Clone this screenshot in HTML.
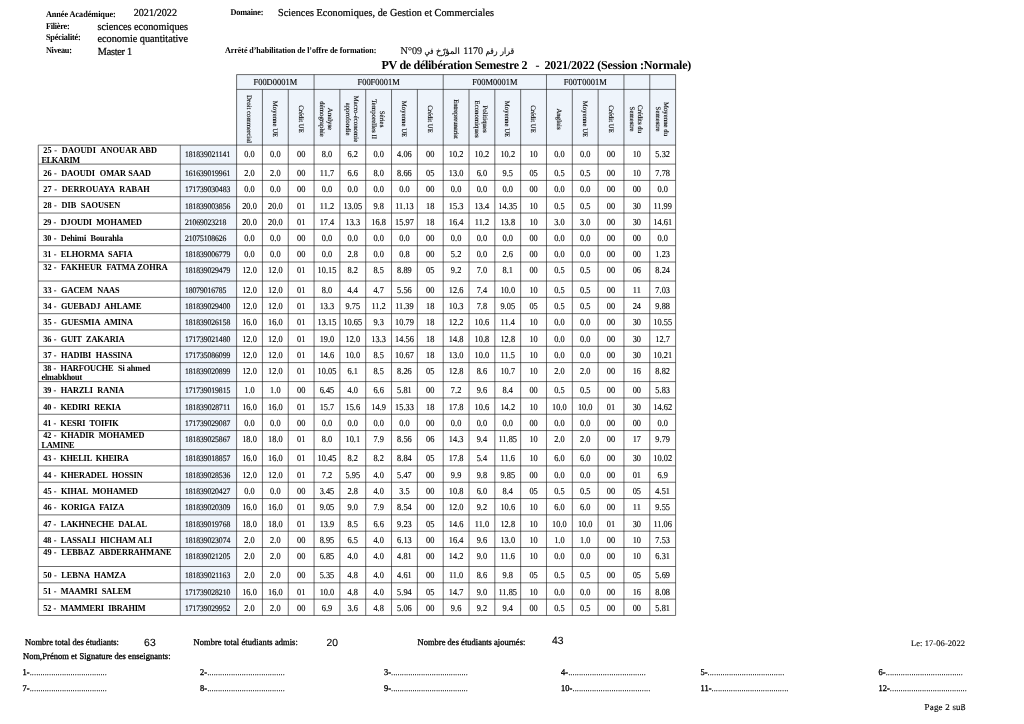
<!DOCTYPE html>
<html lang="fr">
<head>
<meta charset="utf-8">
<title>PV de délibération Semestre 2 - 2021/2022</title>
<style>
html,body{margin:0;padding:0;background:#fff;}
body{width:1024px;height:724px;overflow:hidden;}
svg{display:block;font-family:'Liberation Serif','DejaVu Serif',serif;fill:#000;will-change:transform;}
text{fill:#000;stroke:#000;stroke-width:0.12px;}
text[font-weight=bold]{stroke-width:0;}
</style>
</head>
<body>
<svg width="1024" height="724" viewBox="0 0 1024 724">
<rect x="236.60" y="74.60" width="439.00" height="70.50" fill="#eef4fb"/>
<rect x="180.25" y="145.10" width="56.35" height="470.36" fill="#eef4fb"/>
<path d="M236.60 74.60H675.60M236.60 89.40H675.60M38.25 145.10H675.60M38.25 164.10H675.60M38.25 180.42H675.60M38.25 196.74H675.60M38.25 213.06H675.60M38.25 229.38H675.60M38.25 245.70H675.60M38.25 262.02H675.60M38.25 281.02H675.60M38.25 297.34H675.60M38.25 313.66H675.60M38.25 329.98H675.60M38.25 346.30H675.60M38.25 362.62H675.60M38.25 381.62H675.60M38.25 397.94H675.60M38.25 414.26H675.60M38.25 430.58H675.60M38.25 449.58H675.60M38.25 465.90H675.60M38.25 482.22H675.60M38.25 498.54H675.60M38.25 514.86H675.60M38.25 531.18H675.60M38.25 547.50H675.60M38.25 566.50H675.60M38.25 582.82H675.60M38.25 599.14H675.60M38.25 615.46H675.60M38.25 145.10V615.46M180.25 145.10V615.46M236.60 74.60V615.46M262.42 89.40V615.46M288.25 89.40V615.46M314.07 74.60V615.46M339.89 89.40V615.46M365.72 89.40V615.46M391.54 89.40V615.46M417.36 89.40V615.46M443.19 74.60V615.46M469.01 89.40V615.46M494.84 89.40V615.46M520.66 89.40V615.46M546.48 74.60V615.46M572.31 89.40V615.46M598.13 89.40V615.46M623.95 74.60V615.46M649.78 74.60V615.46M675.60 74.60V615.46" fill="none" stroke="#111" stroke-width="0.62"/>
<text transform="translate(275.34 85.20) scale(1 1.08) skewX(0.5)" font-size="8.5" text-anchor="middle">F00D0001M</text>
<text transform="translate(378.63 85.20) scale(1 1.08) skewX(0.5)" font-size="8.5" text-anchor="middle">F00F0001M</text>
<text transform="translate(494.84 85.20) scale(1 1.08) skewX(0.5)" font-size="8.5" text-anchor="middle">F00M0001M</text>
<text transform="translate(585.22 85.20) scale(1 1.08) skewX(0.5)" font-size="8.5" text-anchor="middle">F00T0001M</text>
<text transform="translate(249.51 119.00) rotate(90) skewX(0.5)" x="0" y="2.50" font-size="6.8" text-anchor="middle">Droit commercial</text>
<text transform="translate(275.34 119.00) rotate(90) skewX(0.5)" x="0" y="2.50" font-size="6.8" text-anchor="middle">Moyenne UE</text>
<text transform="translate(301.16 119.00) rotate(90) skewX(0.5)" x="0" y="2.50" font-size="6.8" text-anchor="middle">Crédit UE</text>
<text transform="translate(326.98 119.00) rotate(90) skewX(0.5)" x="0" y="-1.50" font-size="6.8" text-anchor="middle">Analyse</text>
<text transform="translate(326.98 119.00) rotate(90) skewX(0.5)" x="0" y="6.50" font-size="6.8" text-anchor="middle">démographie</text>
<text transform="translate(352.81 119.00) rotate(90) skewX(0.5)" x="0" y="-1.50" font-size="6.8" text-anchor="middle">Macro-économie</text>
<text transform="translate(352.81 119.00) rotate(90) skewX(0.5)" x="0" y="6.50" font-size="6.8" text-anchor="middle">approfondie</text>
<text transform="translate(378.63 119.00) rotate(90) skewX(0.5)" x="0" y="-1.50" font-size="6.8" text-anchor="middle">Séries</text>
<text transform="translate(378.63 119.00) rotate(90) skewX(0.5)" x="0" y="6.50" font-size="6.8" text-anchor="middle">Temporelles II</text>
<text transform="translate(404.45 119.00) rotate(90) skewX(0.5)" x="0" y="2.50" font-size="6.8" text-anchor="middle">Moyenne UE</text>
<text transform="translate(430.28 119.00) rotate(90) skewX(0.5)" x="0" y="2.50" font-size="6.8" text-anchor="middle">Crédit UE</text>
<text transform="translate(456.10 119.00) rotate(90) skewX(0.5)" x="0" y="2.50" font-size="6.8" text-anchor="middle" letter-spacing="-0.177">Entrepreunariat</text>
<text transform="translate(481.92 119.00) rotate(90) skewX(0.5)" x="0" y="-1.50" font-size="6.8" text-anchor="middle">Politiques</text>
<text transform="translate(481.92 119.00) rotate(90) skewX(0.5)" x="0" y="6.50" font-size="6.8" text-anchor="middle">Economiques</text>
<text transform="translate(507.75 119.00) rotate(90) skewX(0.5)" x="0" y="2.50" font-size="6.8" text-anchor="middle">Moyenne UE</text>
<text transform="translate(533.57 119.00) rotate(90) skewX(0.5)" x="0" y="2.50" font-size="6.8" text-anchor="middle">Crédit UE</text>
<text transform="translate(559.39 119.00) rotate(90) skewX(0.5)" x="0" y="2.50" font-size="6.8" text-anchor="middle">Anglais</text>
<text transform="translate(585.22 119.00) rotate(90) skewX(0.5)" x="0" y="2.50" font-size="6.8" text-anchor="middle">Moyenne UE</text>
<text transform="translate(611.04 119.00) rotate(90) skewX(0.5)" x="0" y="2.50" font-size="6.8" text-anchor="middle">Crédit UE</text>
<text transform="translate(636.86 119.00) rotate(90) skewX(0.5)" x="0" y="-1.50" font-size="6.8" text-anchor="middle">Crédits du</text>
<text transform="translate(636.86 119.00) rotate(90) skewX(0.5)" x="0" y="6.50" font-size="6.8" text-anchor="middle">Semestre</text>
<text transform="translate(662.69 119.00) rotate(90) skewX(0.5)" x="0" y="-1.50" font-size="6.8" text-anchor="middle">Moyenne du</text>
<text transform="translate(662.69 119.00) rotate(90) skewX(0.5)" x="0" y="6.50" font-size="6.8" text-anchor="middle">Semestre</text>
<text transform="translate(43.30 153.00) scale(1 1.08) skewX(0.5)" font-size="8.35" font-weight="bold" xml:space="preserve" word-spacing="0.25" letter-spacing="0.059">25 -  DAOUDI  ANOUAR ABD</text>
<text transform="translate(41.40 162.90) scale(1 1.08) skewX(0.5)" font-size="8.35" font-weight="bold" letter-spacing="-0.333">ELKARIM</text>
<text transform="translate(184.90 156.50) scale(1 1.09) skewX(0.5)" font-size="7.8" letter-spacing="-0.093">181839021141</text>
<text transform="translate(249.51 156.50) scale(1 1.09) skewX(0.5)" font-size="8.4" text-anchor="middle">0.0</text>
<text transform="translate(275.34 156.50) scale(1 1.09) skewX(0.5)" font-size="8.4" text-anchor="middle">0.0</text>
<text transform="translate(301.16 156.50) scale(1 1.09) skewX(0.5)" font-size="8.4" text-anchor="middle">00</text>
<text transform="translate(326.98 156.50) scale(1 1.09) skewX(0.5)" font-size="8.4" text-anchor="middle">8.0</text>
<text transform="translate(352.81 156.50) scale(1 1.09) skewX(0.5)" font-size="8.4" text-anchor="middle">6.2</text>
<text transform="translate(378.63 156.50) scale(1 1.09) skewX(0.5)" font-size="8.4" text-anchor="middle">0.0</text>
<text transform="translate(404.45 156.50) scale(1 1.09) skewX(0.5)" font-size="8.4" text-anchor="middle">4.06</text>
<text transform="translate(430.28 156.50) scale(1 1.09) skewX(0.5)" font-size="8.4" text-anchor="middle">00</text>
<text transform="translate(456.10 156.50) scale(1 1.09) skewX(0.5)" font-size="8.4" text-anchor="middle">10.2</text>
<text transform="translate(481.92 156.50) scale(1 1.09) skewX(0.5)" font-size="8.4" text-anchor="middle">10.2</text>
<text transform="translate(507.75 156.50) scale(1 1.09) skewX(0.5)" font-size="8.4" text-anchor="middle">10.2</text>
<text transform="translate(533.57 156.50) scale(1 1.09) skewX(0.5)" font-size="8.4" text-anchor="middle">10</text>
<text transform="translate(559.39 156.50) scale(1 1.09) skewX(0.5)" font-size="8.4" text-anchor="middle">0.0</text>
<text transform="translate(585.22 156.50) scale(1 1.09) skewX(0.5)" font-size="8.4" text-anchor="middle">0.0</text>
<text transform="translate(611.04 156.50) scale(1 1.09) skewX(0.5)" font-size="8.4" text-anchor="middle">00</text>
<text transform="translate(636.86 156.50) scale(1 1.09) skewX(0.5)" font-size="8.4" text-anchor="middle">10</text>
<text transform="translate(662.69 156.50) scale(1 1.09) skewX(0.5)" font-size="8.4" text-anchor="middle">5.32</text>
<text transform="translate(43.30 175.76) scale(1 1.08) skewX(0.5)" font-size="8.35" font-weight="bold" xml:space="preserve" word-spacing="0.25" letter-spacing="-0.022">26 -  DAOUDI  OMAR SAAD</text>
<text transform="translate(184.90 175.86) scale(1 1.09) skewX(0.5)" font-size="7.8" letter-spacing="-0.118">161639019961</text>
<text transform="translate(249.51 175.86) scale(1 1.09) skewX(0.5)" font-size="8.4" text-anchor="middle">2.0</text>
<text transform="translate(275.34 175.86) scale(1 1.09) skewX(0.5)" font-size="8.4" text-anchor="middle">2.0</text>
<text transform="translate(301.16 175.86) scale(1 1.09) skewX(0.5)" font-size="8.4" text-anchor="middle">00</text>
<text transform="translate(326.98 175.86) scale(1 1.09) skewX(0.5)" font-size="8.4" text-anchor="middle">11.7</text>
<text transform="translate(352.81 175.86) scale(1 1.09) skewX(0.5)" font-size="8.4" text-anchor="middle">6.6</text>
<text transform="translate(378.63 175.86) scale(1 1.09) skewX(0.5)" font-size="8.4" text-anchor="middle">8.0</text>
<text transform="translate(404.45 175.86) scale(1 1.09) skewX(0.5)" font-size="8.4" text-anchor="middle">8.66</text>
<text transform="translate(430.28 175.86) scale(1 1.09) skewX(0.5)" font-size="8.4" text-anchor="middle">05</text>
<text transform="translate(456.10 175.86) scale(1 1.09) skewX(0.5)" font-size="8.4" text-anchor="middle">13.0</text>
<text transform="translate(481.92 175.86) scale(1 1.09) skewX(0.5)" font-size="8.4" text-anchor="middle">6.0</text>
<text transform="translate(507.75 175.86) scale(1 1.09) skewX(0.5)" font-size="8.4" text-anchor="middle">9.5</text>
<text transform="translate(533.57 175.86) scale(1 1.09) skewX(0.5)" font-size="8.4" text-anchor="middle">05</text>
<text transform="translate(559.39 175.86) scale(1 1.09) skewX(0.5)" font-size="8.4" text-anchor="middle">0.5</text>
<text transform="translate(585.22 175.86) scale(1 1.09) skewX(0.5)" font-size="8.4" text-anchor="middle">0.5</text>
<text transform="translate(611.04 175.86) scale(1 1.09) skewX(0.5)" font-size="8.4" text-anchor="middle">00</text>
<text transform="translate(636.86 175.86) scale(1 1.09) skewX(0.5)" font-size="8.4" text-anchor="middle">10</text>
<text transform="translate(662.69 175.86) scale(1 1.09) skewX(0.5)" font-size="8.4" text-anchor="middle">7.78</text>
<text transform="translate(43.30 192.08) scale(1 1.08) skewX(0.5)" font-size="8.35" font-weight="bold" xml:space="preserve" word-spacing="0.25" letter-spacing="0.058">27 -  DERROUAYA  RABAH</text>
<text transform="translate(184.90 192.18) scale(1 1.09) skewX(0.5)" font-size="7.8" letter-spacing="-0.118">171739030483</text>
<text transform="translate(249.51 192.18) scale(1 1.09) skewX(0.5)" font-size="8.4" text-anchor="middle">0.0</text>
<text transform="translate(275.34 192.18) scale(1 1.09) skewX(0.5)" font-size="8.4" text-anchor="middle">0.0</text>
<text transform="translate(301.16 192.18) scale(1 1.09) skewX(0.5)" font-size="8.4" text-anchor="middle">00</text>
<text transform="translate(326.98 192.18) scale(1 1.09) skewX(0.5)" font-size="8.4" text-anchor="middle">0.0</text>
<text transform="translate(352.81 192.18) scale(1 1.09) skewX(0.5)" font-size="8.4" text-anchor="middle">0.0</text>
<text transform="translate(378.63 192.18) scale(1 1.09) skewX(0.5)" font-size="8.4" text-anchor="middle">0.0</text>
<text transform="translate(404.45 192.18) scale(1 1.09) skewX(0.5)" font-size="8.4" text-anchor="middle">0.0</text>
<text transform="translate(430.28 192.18) scale(1 1.09) skewX(0.5)" font-size="8.4" text-anchor="middle">00</text>
<text transform="translate(456.10 192.18) scale(1 1.09) skewX(0.5)" font-size="8.4" text-anchor="middle">0.0</text>
<text transform="translate(481.92 192.18) scale(1 1.09) skewX(0.5)" font-size="8.4" text-anchor="middle">0.0</text>
<text transform="translate(507.75 192.18) scale(1 1.09) skewX(0.5)" font-size="8.4" text-anchor="middle">0.0</text>
<text transform="translate(533.57 192.18) scale(1 1.09) skewX(0.5)" font-size="8.4" text-anchor="middle">00</text>
<text transform="translate(559.39 192.18) scale(1 1.09) skewX(0.5)" font-size="8.4" text-anchor="middle">0.0</text>
<text transform="translate(585.22 192.18) scale(1 1.09) skewX(0.5)" font-size="8.4" text-anchor="middle">0.0</text>
<text transform="translate(611.04 192.18) scale(1 1.09) skewX(0.5)" font-size="8.4" text-anchor="middle">00</text>
<text transform="translate(636.86 192.18) scale(1 1.09) skewX(0.5)" font-size="8.4" text-anchor="middle">00</text>
<text transform="translate(662.69 192.18) scale(1 1.09) skewX(0.5)" font-size="8.4" text-anchor="middle">0.0</text>
<text transform="translate(43.30 208.40) scale(1 1.08) skewX(0.5)" font-size="8.35" font-weight="bold" xml:space="preserve" word-spacing="0.25" letter-spacing="-0.010">28 -  DIB  SAOUSEN</text>
<text transform="translate(184.90 208.50) scale(1 1.09) skewX(0.5)" font-size="7.8" letter-spacing="-0.118">181839003856</text>
<text transform="translate(249.51 208.50) scale(1 1.09) skewX(0.5)" font-size="8.4" text-anchor="middle">20.0</text>
<text transform="translate(275.34 208.50) scale(1 1.09) skewX(0.5)" font-size="8.4" text-anchor="middle">20.0</text>
<text transform="translate(301.16 208.50) scale(1 1.09) skewX(0.5)" font-size="8.4" text-anchor="middle">01</text>
<text transform="translate(326.98 208.50) scale(1 1.09) skewX(0.5)" font-size="8.4" text-anchor="middle">11.2</text>
<text transform="translate(352.81 208.50) scale(1 1.09) skewX(0.5)" font-size="8.4" text-anchor="middle">13.05</text>
<text transform="translate(378.63 208.50) scale(1 1.09) skewX(0.5)" font-size="8.4" text-anchor="middle">9.8</text>
<text transform="translate(404.45 208.50) scale(1 1.09) skewX(0.5)" font-size="8.4" text-anchor="middle">11.13</text>
<text transform="translate(430.28 208.50) scale(1 1.09) skewX(0.5)" font-size="8.4" text-anchor="middle">18</text>
<text transform="translate(456.10 208.50) scale(1 1.09) skewX(0.5)" font-size="8.4" text-anchor="middle">15.3</text>
<text transform="translate(481.92 208.50) scale(1 1.09) skewX(0.5)" font-size="8.4" text-anchor="middle">13.4</text>
<text transform="translate(507.75 208.50) scale(1 1.09) skewX(0.5)" font-size="8.4" text-anchor="middle">14.35</text>
<text transform="translate(533.57 208.50) scale(1 1.09) skewX(0.5)" font-size="8.4" text-anchor="middle">10</text>
<text transform="translate(559.39 208.50) scale(1 1.09) skewX(0.5)" font-size="8.4" text-anchor="middle">0.5</text>
<text transform="translate(585.22 208.50) scale(1 1.09) skewX(0.5)" font-size="8.4" text-anchor="middle">0.5</text>
<text transform="translate(611.04 208.50) scale(1 1.09) skewX(0.5)" font-size="8.4" text-anchor="middle">00</text>
<text transform="translate(636.86 208.50) scale(1 1.09) skewX(0.5)" font-size="8.4" text-anchor="middle">30</text>
<text transform="translate(662.69 208.50) scale(1 1.09) skewX(0.5)" font-size="8.4" text-anchor="middle">11.99</text>
<text transform="translate(43.30 224.72) scale(1 1.08) skewX(0.5)" font-size="8.35" font-weight="bold" xml:space="preserve" word-spacing="0.25" letter-spacing="-0.125">29 -  DJOUDI  MOHAMED</text>
<text transform="translate(184.90 224.82) scale(1 1.09) skewX(0.5)" font-size="7.8" letter-spacing="-0.120">21069023218</text>
<text transform="translate(249.51 224.82) scale(1 1.09) skewX(0.5)" font-size="8.4" text-anchor="middle">20.0</text>
<text transform="translate(275.34 224.82) scale(1 1.09) skewX(0.5)" font-size="8.4" text-anchor="middle">20.0</text>
<text transform="translate(301.16 224.82) scale(1 1.09) skewX(0.5)" font-size="8.4" text-anchor="middle">01</text>
<text transform="translate(326.98 224.82) scale(1 1.09) skewX(0.5)" font-size="8.4" text-anchor="middle">17.4</text>
<text transform="translate(352.81 224.82) scale(1 1.09) skewX(0.5)" font-size="8.4" text-anchor="middle">13.3</text>
<text transform="translate(378.63 224.82) scale(1 1.09) skewX(0.5)" font-size="8.4" text-anchor="middle">16.8</text>
<text transform="translate(404.45 224.82) scale(1 1.09) skewX(0.5)" font-size="8.4" text-anchor="middle">15.97</text>
<text transform="translate(430.28 224.82) scale(1 1.09) skewX(0.5)" font-size="8.4" text-anchor="middle">18</text>
<text transform="translate(456.10 224.82) scale(1 1.09) skewX(0.5)" font-size="8.4" text-anchor="middle">16.4</text>
<text transform="translate(481.92 224.82) scale(1 1.09) skewX(0.5)" font-size="8.4" text-anchor="middle">11.2</text>
<text transform="translate(507.75 224.82) scale(1 1.09) skewX(0.5)" font-size="8.4" text-anchor="middle">13.8</text>
<text transform="translate(533.57 224.82) scale(1 1.09) skewX(0.5)" font-size="8.4" text-anchor="middle">10</text>
<text transform="translate(559.39 224.82) scale(1 1.09) skewX(0.5)" font-size="8.4" text-anchor="middle">3.0</text>
<text transform="translate(585.22 224.82) scale(1 1.09) skewX(0.5)" font-size="8.4" text-anchor="middle">3.0</text>
<text transform="translate(611.04 224.82) scale(1 1.09) skewX(0.5)" font-size="8.4" text-anchor="middle">00</text>
<text transform="translate(636.86 224.82) scale(1 1.09) skewX(0.5)" font-size="8.4" text-anchor="middle">30</text>
<text transform="translate(662.69 224.82) scale(1 1.09) skewX(0.5)" font-size="8.4" text-anchor="middle">14.61</text>
<text transform="translate(43.30 241.04) scale(1 1.08) skewX(0.5)" font-size="8.35" font-weight="bold" xml:space="preserve" word-spacing="0.25" letter-spacing="-0.107">30 -  Dehimi  Bourahla</text>
<text transform="translate(184.90 241.14) scale(1 1.09) skewX(0.5)" font-size="7.8" letter-spacing="-0.120">21075108626</text>
<text transform="translate(249.51 241.14) scale(1 1.09) skewX(0.5)" font-size="8.4" text-anchor="middle">0.0</text>
<text transform="translate(275.34 241.14) scale(1 1.09) skewX(0.5)" font-size="8.4" text-anchor="middle">0.0</text>
<text transform="translate(301.16 241.14) scale(1 1.09) skewX(0.5)" font-size="8.4" text-anchor="middle">00</text>
<text transform="translate(326.98 241.14) scale(1 1.09) skewX(0.5)" font-size="8.4" text-anchor="middle">0.0</text>
<text transform="translate(352.81 241.14) scale(1 1.09) skewX(0.5)" font-size="8.4" text-anchor="middle">0.0</text>
<text transform="translate(378.63 241.14) scale(1 1.09) skewX(0.5)" font-size="8.4" text-anchor="middle">0.0</text>
<text transform="translate(404.45 241.14) scale(1 1.09) skewX(0.5)" font-size="8.4" text-anchor="middle">0.0</text>
<text transform="translate(430.28 241.14) scale(1 1.09) skewX(0.5)" font-size="8.4" text-anchor="middle">00</text>
<text transform="translate(456.10 241.14) scale(1 1.09) skewX(0.5)" font-size="8.4" text-anchor="middle">0.0</text>
<text transform="translate(481.92 241.14) scale(1 1.09) skewX(0.5)" font-size="8.4" text-anchor="middle">0.0</text>
<text transform="translate(507.75 241.14) scale(1 1.09) skewX(0.5)" font-size="8.4" text-anchor="middle">0.0</text>
<text transform="translate(533.57 241.14) scale(1 1.09) skewX(0.5)" font-size="8.4" text-anchor="middle">00</text>
<text transform="translate(559.39 241.14) scale(1 1.09) skewX(0.5)" font-size="8.4" text-anchor="middle">0.0</text>
<text transform="translate(585.22 241.14) scale(1 1.09) skewX(0.5)" font-size="8.4" text-anchor="middle">0.0</text>
<text transform="translate(611.04 241.14) scale(1 1.09) skewX(0.5)" font-size="8.4" text-anchor="middle">00</text>
<text transform="translate(636.86 241.14) scale(1 1.09) skewX(0.5)" font-size="8.4" text-anchor="middle">00</text>
<text transform="translate(662.69 241.14) scale(1 1.09) skewX(0.5)" font-size="8.4" text-anchor="middle">0.0</text>
<text transform="translate(43.30 257.36) scale(1 1.08) skewX(0.5)" font-size="8.35" font-weight="bold" xml:space="preserve" word-spacing="0.25" letter-spacing="-0.106">31 -  ELHORMA  SAFIA</text>
<text transform="translate(184.90 257.46) scale(1 1.09) skewX(0.5)" font-size="7.8" letter-spacing="-0.118">181839006779</text>
<text transform="translate(249.51 257.46) scale(1 1.09) skewX(0.5)" font-size="8.4" text-anchor="middle">0.0</text>
<text transform="translate(275.34 257.46) scale(1 1.09) skewX(0.5)" font-size="8.4" text-anchor="middle">0.0</text>
<text transform="translate(301.16 257.46) scale(1 1.09) skewX(0.5)" font-size="8.4" text-anchor="middle">00</text>
<text transform="translate(326.98 257.46) scale(1 1.09) skewX(0.5)" font-size="8.4" text-anchor="middle">0.0</text>
<text transform="translate(352.81 257.46) scale(1 1.09) skewX(0.5)" font-size="8.4" text-anchor="middle">2.8</text>
<text transform="translate(378.63 257.46) scale(1 1.09) skewX(0.5)" font-size="8.4" text-anchor="middle">0.0</text>
<text transform="translate(404.45 257.46) scale(1 1.09) skewX(0.5)" font-size="8.4" text-anchor="middle">0.8</text>
<text transform="translate(430.28 257.46) scale(1 1.09) skewX(0.5)" font-size="8.4" text-anchor="middle">00</text>
<text transform="translate(456.10 257.46) scale(1 1.09) skewX(0.5)" font-size="8.4" text-anchor="middle">5.2</text>
<text transform="translate(481.92 257.46) scale(1 1.09) skewX(0.5)" font-size="8.4" text-anchor="middle">0.0</text>
<text transform="translate(507.75 257.46) scale(1 1.09) skewX(0.5)" font-size="8.4" text-anchor="middle">2.6</text>
<text transform="translate(533.57 257.46) scale(1 1.09) skewX(0.5)" font-size="8.4" text-anchor="middle">00</text>
<text transform="translate(559.39 257.46) scale(1 1.09) skewX(0.5)" font-size="8.4" text-anchor="middle">0.0</text>
<text transform="translate(585.22 257.46) scale(1 1.09) skewX(0.5)" font-size="8.4" text-anchor="middle">0.0</text>
<text transform="translate(611.04 257.46) scale(1 1.09) skewX(0.5)" font-size="8.4" text-anchor="middle">00</text>
<text transform="translate(636.86 257.46) scale(1 1.09) skewX(0.5)" font-size="8.4" text-anchor="middle">00</text>
<text transform="translate(662.69 257.46) scale(1 1.09) skewX(0.5)" font-size="8.4" text-anchor="middle">1.23</text>
<text transform="translate(43.30 269.92) scale(1 1.08) skewX(0.5)" font-size="8.35" font-weight="bold" xml:space="preserve" word-spacing="0.25" letter-spacing="-0.053">32 -  FAKHEUR  FATMA ZOHRA</text>
<text transform="translate(184.90 273.42) scale(1 1.09) skewX(0.5)" font-size="7.8" letter-spacing="-0.118">181839029479</text>
<text transform="translate(249.51 273.42) scale(1 1.09) skewX(0.5)" font-size="8.4" text-anchor="middle">12.0</text>
<text transform="translate(275.34 273.42) scale(1 1.09) skewX(0.5)" font-size="8.4" text-anchor="middle">12.0</text>
<text transform="translate(301.16 273.42) scale(1 1.09) skewX(0.5)" font-size="8.4" text-anchor="middle">01</text>
<text transform="translate(326.98 273.42) scale(1 1.09) skewX(0.5)" font-size="8.4" text-anchor="middle">10.15</text>
<text transform="translate(352.81 273.42) scale(1 1.09) skewX(0.5)" font-size="8.4" text-anchor="middle">8.2</text>
<text transform="translate(378.63 273.42) scale(1 1.09) skewX(0.5)" font-size="8.4" text-anchor="middle">8.5</text>
<text transform="translate(404.45 273.42) scale(1 1.09) skewX(0.5)" font-size="8.4" text-anchor="middle">8.89</text>
<text transform="translate(430.28 273.42) scale(1 1.09) skewX(0.5)" font-size="8.4" text-anchor="middle">05</text>
<text transform="translate(456.10 273.42) scale(1 1.09) skewX(0.5)" font-size="8.4" text-anchor="middle">9.2</text>
<text transform="translate(481.92 273.42) scale(1 1.09) skewX(0.5)" font-size="8.4" text-anchor="middle">7.0</text>
<text transform="translate(507.75 273.42) scale(1 1.09) skewX(0.5)" font-size="8.4" text-anchor="middle">8.1</text>
<text transform="translate(533.57 273.42) scale(1 1.09) skewX(0.5)" font-size="8.4" text-anchor="middle">00</text>
<text transform="translate(559.39 273.42) scale(1 1.09) skewX(0.5)" font-size="8.4" text-anchor="middle">0.5</text>
<text transform="translate(585.22 273.42) scale(1 1.09) skewX(0.5)" font-size="8.4" text-anchor="middle">0.5</text>
<text transform="translate(611.04 273.42) scale(1 1.09) skewX(0.5)" font-size="8.4" text-anchor="middle">00</text>
<text transform="translate(636.86 273.42) scale(1 1.09) skewX(0.5)" font-size="8.4" text-anchor="middle">06</text>
<text transform="translate(662.69 273.42) scale(1 1.09) skewX(0.5)" font-size="8.4" text-anchor="middle">8.24</text>
<text transform="translate(43.30 292.68) scale(1 1.08) skewX(0.5)" font-size="8.35" font-weight="bold" xml:space="preserve" word-spacing="0.25" letter-spacing="-0.070">33 -  GACEM  NAAS</text>
<text transform="translate(184.90 292.78) scale(1 1.09) skewX(0.5)" font-size="7.8" letter-spacing="-0.120">18079016785</text>
<text transform="translate(249.51 292.78) scale(1 1.09) skewX(0.5)" font-size="8.4" text-anchor="middle">12.0</text>
<text transform="translate(275.34 292.78) scale(1 1.09) skewX(0.5)" font-size="8.4" text-anchor="middle">12.0</text>
<text transform="translate(301.16 292.78) scale(1 1.09) skewX(0.5)" font-size="8.4" text-anchor="middle">01</text>
<text transform="translate(326.98 292.78) scale(1 1.09) skewX(0.5)" font-size="8.4" text-anchor="middle">8.0</text>
<text transform="translate(352.81 292.78) scale(1 1.09) skewX(0.5)" font-size="8.4" text-anchor="middle">4.4</text>
<text transform="translate(378.63 292.78) scale(1 1.09) skewX(0.5)" font-size="8.4" text-anchor="middle">4.7</text>
<text transform="translate(404.45 292.78) scale(1 1.09) skewX(0.5)" font-size="8.4" text-anchor="middle">5.56</text>
<text transform="translate(430.28 292.78) scale(1 1.09) skewX(0.5)" font-size="8.4" text-anchor="middle">00</text>
<text transform="translate(456.10 292.78) scale(1 1.09) skewX(0.5)" font-size="8.4" text-anchor="middle">12.6</text>
<text transform="translate(481.92 292.78) scale(1 1.09) skewX(0.5)" font-size="8.4" text-anchor="middle">7.4</text>
<text transform="translate(507.75 292.78) scale(1 1.09) skewX(0.5)" font-size="8.4" text-anchor="middle">10.0</text>
<text transform="translate(533.57 292.78) scale(1 1.09) skewX(0.5)" font-size="8.4" text-anchor="middle">10</text>
<text transform="translate(559.39 292.78) scale(1 1.09) skewX(0.5)" font-size="8.4" text-anchor="middle">0.5</text>
<text transform="translate(585.22 292.78) scale(1 1.09) skewX(0.5)" font-size="8.4" text-anchor="middle">0.5</text>
<text transform="translate(611.04 292.78) scale(1 1.09) skewX(0.5)" font-size="8.4" text-anchor="middle">00</text>
<text transform="translate(636.86 292.78) scale(1 1.09) skewX(0.5)" font-size="8.4" text-anchor="middle">11</text>
<text transform="translate(662.69 292.78) scale(1 1.09) skewX(0.5)" font-size="8.4" text-anchor="middle">7.03</text>
<text transform="translate(43.30 309.00) scale(1 1.08) skewX(0.5)" font-size="8.35" font-weight="bold" xml:space="preserve" word-spacing="0.25" letter-spacing="-0.081">34 -  GUEBADJ  AHLAME</text>
<text transform="translate(184.90 309.10) scale(1 1.09) skewX(0.5)" font-size="7.8" letter-spacing="-0.118">181839029400</text>
<text transform="translate(249.51 309.10) scale(1 1.09) skewX(0.5)" font-size="8.4" text-anchor="middle">12.0</text>
<text transform="translate(275.34 309.10) scale(1 1.09) skewX(0.5)" font-size="8.4" text-anchor="middle">12.0</text>
<text transform="translate(301.16 309.10) scale(1 1.09) skewX(0.5)" font-size="8.4" text-anchor="middle">01</text>
<text transform="translate(326.98 309.10) scale(1 1.09) skewX(0.5)" font-size="8.4" text-anchor="middle">13.3</text>
<text transform="translate(352.81 309.10) scale(1 1.09) skewX(0.5)" font-size="8.4" text-anchor="middle">9.75</text>
<text transform="translate(378.63 309.10) scale(1 1.09) skewX(0.5)" font-size="8.4" text-anchor="middle">11.2</text>
<text transform="translate(404.45 309.10) scale(1 1.09) skewX(0.5)" font-size="8.4" text-anchor="middle">11.39</text>
<text transform="translate(430.28 309.10) scale(1 1.09) skewX(0.5)" font-size="8.4" text-anchor="middle">18</text>
<text transform="translate(456.10 309.10) scale(1 1.09) skewX(0.5)" font-size="8.4" text-anchor="middle">10.3</text>
<text transform="translate(481.92 309.10) scale(1 1.09) skewX(0.5)" font-size="8.4" text-anchor="middle">7.8</text>
<text transform="translate(507.75 309.10) scale(1 1.09) skewX(0.5)" font-size="8.4" text-anchor="middle">9.05</text>
<text transform="translate(533.57 309.10) scale(1 1.09) skewX(0.5)" font-size="8.4" text-anchor="middle">05</text>
<text transform="translate(559.39 309.10) scale(1 1.09) skewX(0.5)" font-size="8.4" text-anchor="middle">0.5</text>
<text transform="translate(585.22 309.10) scale(1 1.09) skewX(0.5)" font-size="8.4" text-anchor="middle">0.5</text>
<text transform="translate(611.04 309.10) scale(1 1.09) skewX(0.5)" font-size="8.4" text-anchor="middle">00</text>
<text transform="translate(636.86 309.10) scale(1 1.09) skewX(0.5)" font-size="8.4" text-anchor="middle">24</text>
<text transform="translate(662.69 309.10) scale(1 1.09) skewX(0.5)" font-size="8.4" text-anchor="middle">9.88</text>
<text transform="translate(43.30 325.32) scale(1 1.08) skewX(0.5)" font-size="8.35" font-weight="bold" xml:space="preserve" word-spacing="0.25" letter-spacing="-0.066">35 -  GUESMIA  AMINA</text>
<text transform="translate(184.90 325.42) scale(1 1.09) skewX(0.5)" font-size="7.8" letter-spacing="-0.118">181839026158</text>
<text transform="translate(249.51 325.42) scale(1 1.09) skewX(0.5)" font-size="8.4" text-anchor="middle">16.0</text>
<text transform="translate(275.34 325.42) scale(1 1.09) skewX(0.5)" font-size="8.4" text-anchor="middle">16.0</text>
<text transform="translate(301.16 325.42) scale(1 1.09) skewX(0.5)" font-size="8.4" text-anchor="middle">01</text>
<text transform="translate(326.98 325.42) scale(1 1.09) skewX(0.5)" font-size="8.4" text-anchor="middle">13.15</text>
<text transform="translate(352.81 325.42) scale(1 1.09) skewX(0.5)" font-size="8.4" text-anchor="middle">10.65</text>
<text transform="translate(378.63 325.42) scale(1 1.09) skewX(0.5)" font-size="8.4" text-anchor="middle">9.3</text>
<text transform="translate(404.45 325.42) scale(1 1.09) skewX(0.5)" font-size="8.4" text-anchor="middle">10.79</text>
<text transform="translate(430.28 325.42) scale(1 1.09) skewX(0.5)" font-size="8.4" text-anchor="middle">18</text>
<text transform="translate(456.10 325.42) scale(1 1.09) skewX(0.5)" font-size="8.4" text-anchor="middle">12.2</text>
<text transform="translate(481.92 325.42) scale(1 1.09) skewX(0.5)" font-size="8.4" text-anchor="middle">10.6</text>
<text transform="translate(507.75 325.42) scale(1 1.09) skewX(0.5)" font-size="8.4" text-anchor="middle">11.4</text>
<text transform="translate(533.57 325.42) scale(1 1.09) skewX(0.5)" font-size="8.4" text-anchor="middle">10</text>
<text transform="translate(559.39 325.42) scale(1 1.09) skewX(0.5)" font-size="8.4" text-anchor="middle">0.0</text>
<text transform="translate(585.22 325.42) scale(1 1.09) skewX(0.5)" font-size="8.4" text-anchor="middle">0.0</text>
<text transform="translate(611.04 325.42) scale(1 1.09) skewX(0.5)" font-size="8.4" text-anchor="middle">00</text>
<text transform="translate(636.86 325.42) scale(1 1.09) skewX(0.5)" font-size="8.4" text-anchor="middle">30</text>
<text transform="translate(662.69 325.42) scale(1 1.09) skewX(0.5)" font-size="8.4" text-anchor="middle">10.55</text>
<text transform="translate(43.30 341.64) scale(1 1.08) skewX(0.5)" font-size="8.35" font-weight="bold" xml:space="preserve" word-spacing="0.25" letter-spacing="-0.111">36 -  GUIT  ZAKARIA</text>
<text transform="translate(184.90 341.74) scale(1 1.09) skewX(0.5)" font-size="7.8" letter-spacing="-0.118">171739021480</text>
<text transform="translate(249.51 341.74) scale(1 1.09) skewX(0.5)" font-size="8.4" text-anchor="middle">12.0</text>
<text transform="translate(275.34 341.74) scale(1 1.09) skewX(0.5)" font-size="8.4" text-anchor="middle">12.0</text>
<text transform="translate(301.16 341.74) scale(1 1.09) skewX(0.5)" font-size="8.4" text-anchor="middle">01</text>
<text transform="translate(326.98 341.74) scale(1 1.09) skewX(0.5)" font-size="8.4" text-anchor="middle">19.0</text>
<text transform="translate(352.81 341.74) scale(1 1.09) skewX(0.5)" font-size="8.4" text-anchor="middle">12.0</text>
<text transform="translate(378.63 341.74) scale(1 1.09) skewX(0.5)" font-size="8.4" text-anchor="middle">13.3</text>
<text transform="translate(404.45 341.74) scale(1 1.09) skewX(0.5)" font-size="8.4" text-anchor="middle">14.56</text>
<text transform="translate(430.28 341.74) scale(1 1.09) skewX(0.5)" font-size="8.4" text-anchor="middle">18</text>
<text transform="translate(456.10 341.74) scale(1 1.09) skewX(0.5)" font-size="8.4" text-anchor="middle">14.8</text>
<text transform="translate(481.92 341.74) scale(1 1.09) skewX(0.5)" font-size="8.4" text-anchor="middle">10.8</text>
<text transform="translate(507.75 341.74) scale(1 1.09) skewX(0.5)" font-size="8.4" text-anchor="middle">12.8</text>
<text transform="translate(533.57 341.74) scale(1 1.09) skewX(0.5)" font-size="8.4" text-anchor="middle">10</text>
<text transform="translate(559.39 341.74) scale(1 1.09) skewX(0.5)" font-size="8.4" text-anchor="middle">0.0</text>
<text transform="translate(585.22 341.74) scale(1 1.09) skewX(0.5)" font-size="8.4" text-anchor="middle">0.0</text>
<text transform="translate(611.04 341.74) scale(1 1.09) skewX(0.5)" font-size="8.4" text-anchor="middle">00</text>
<text transform="translate(636.86 341.74) scale(1 1.09) skewX(0.5)" font-size="8.4" text-anchor="middle">30</text>
<text transform="translate(662.69 341.74) scale(1 1.09) skewX(0.5)" font-size="8.4" text-anchor="middle">12.7</text>
<text transform="translate(43.30 357.96) scale(1 1.08) skewX(0.5)" font-size="8.35" font-weight="bold" xml:space="preserve" word-spacing="0.25" letter-spacing="-0.065">37 -  HADIBI  HASSINA</text>
<text transform="translate(184.90 358.06) scale(1 1.09) skewX(0.5)" font-size="7.8" letter-spacing="-0.118">171735086099</text>
<text transform="translate(249.51 358.06) scale(1 1.09) skewX(0.5)" font-size="8.4" text-anchor="middle">12.0</text>
<text transform="translate(275.34 358.06) scale(1 1.09) skewX(0.5)" font-size="8.4" text-anchor="middle">12.0</text>
<text transform="translate(301.16 358.06) scale(1 1.09) skewX(0.5)" font-size="8.4" text-anchor="middle">01</text>
<text transform="translate(326.98 358.06) scale(1 1.09) skewX(0.5)" font-size="8.4" text-anchor="middle">14.6</text>
<text transform="translate(352.81 358.06) scale(1 1.09) skewX(0.5)" font-size="8.4" text-anchor="middle">10.0</text>
<text transform="translate(378.63 358.06) scale(1 1.09) skewX(0.5)" font-size="8.4" text-anchor="middle">8.5</text>
<text transform="translate(404.45 358.06) scale(1 1.09) skewX(0.5)" font-size="8.4" text-anchor="middle">10.67</text>
<text transform="translate(430.28 358.06) scale(1 1.09) skewX(0.5)" font-size="8.4" text-anchor="middle">18</text>
<text transform="translate(456.10 358.06) scale(1 1.09) skewX(0.5)" font-size="8.4" text-anchor="middle">13.0</text>
<text transform="translate(481.92 358.06) scale(1 1.09) skewX(0.5)" font-size="8.4" text-anchor="middle">10.0</text>
<text transform="translate(507.75 358.06) scale(1 1.09) skewX(0.5)" font-size="8.4" text-anchor="middle">11.5</text>
<text transform="translate(533.57 358.06) scale(1 1.09) skewX(0.5)" font-size="8.4" text-anchor="middle">10</text>
<text transform="translate(559.39 358.06) scale(1 1.09) skewX(0.5)" font-size="8.4" text-anchor="middle">0.0</text>
<text transform="translate(585.22 358.06) scale(1 1.09) skewX(0.5)" font-size="8.4" text-anchor="middle">0.0</text>
<text transform="translate(611.04 358.06) scale(1 1.09) skewX(0.5)" font-size="8.4" text-anchor="middle">00</text>
<text transform="translate(636.86 358.06) scale(1 1.09) skewX(0.5)" font-size="8.4" text-anchor="middle">30</text>
<text transform="translate(662.69 358.06) scale(1 1.09) skewX(0.5)" font-size="8.4" text-anchor="middle">10.21</text>
<text transform="translate(43.30 370.52) scale(1 1.08) skewX(0.5)" font-size="8.35" font-weight="bold" xml:space="preserve" word-spacing="0.25" letter-spacing="-0.143">38 -  HARFOUCHE  Si ahmed</text>
<text transform="translate(41.40 380.42) scale(1 1.08) skewX(0.5)" font-size="8.35" font-weight="bold" letter-spacing="-0.195">elmabkhout</text>
<text transform="translate(184.90 374.02) scale(1 1.09) skewX(0.5)" font-size="7.8" letter-spacing="-0.118">181839020899</text>
<text transform="translate(249.51 374.02) scale(1 1.09) skewX(0.5)" font-size="8.4" text-anchor="middle">12.0</text>
<text transform="translate(275.34 374.02) scale(1 1.09) skewX(0.5)" font-size="8.4" text-anchor="middle">12.0</text>
<text transform="translate(301.16 374.02) scale(1 1.09) skewX(0.5)" font-size="8.4" text-anchor="middle">01</text>
<text transform="translate(326.98 374.02) scale(1 1.09) skewX(0.5)" font-size="8.4" text-anchor="middle">10.05</text>
<text transform="translate(352.81 374.02) scale(1 1.09) skewX(0.5)" font-size="8.4" text-anchor="middle">6.1</text>
<text transform="translate(378.63 374.02) scale(1 1.09) skewX(0.5)" font-size="8.4" text-anchor="middle">8.5</text>
<text transform="translate(404.45 374.02) scale(1 1.09) skewX(0.5)" font-size="8.4" text-anchor="middle">8.26</text>
<text transform="translate(430.28 374.02) scale(1 1.09) skewX(0.5)" font-size="8.4" text-anchor="middle">05</text>
<text transform="translate(456.10 374.02) scale(1 1.09) skewX(0.5)" font-size="8.4" text-anchor="middle">12.8</text>
<text transform="translate(481.92 374.02) scale(1 1.09) skewX(0.5)" font-size="8.4" text-anchor="middle">8.6</text>
<text transform="translate(507.75 374.02) scale(1 1.09) skewX(0.5)" font-size="8.4" text-anchor="middle">10.7</text>
<text transform="translate(533.57 374.02) scale(1 1.09) skewX(0.5)" font-size="8.4" text-anchor="middle">10</text>
<text transform="translate(559.39 374.02) scale(1 1.09) skewX(0.5)" font-size="8.4" text-anchor="middle">2.0</text>
<text transform="translate(585.22 374.02) scale(1 1.09) skewX(0.5)" font-size="8.4" text-anchor="middle">2.0</text>
<text transform="translate(611.04 374.02) scale(1 1.09) skewX(0.5)" font-size="8.4" text-anchor="middle">00</text>
<text transform="translate(636.86 374.02) scale(1 1.09) skewX(0.5)" font-size="8.4" text-anchor="middle">16</text>
<text transform="translate(662.69 374.02) scale(1 1.09) skewX(0.5)" font-size="8.4" text-anchor="middle">8.82</text>
<text transform="translate(43.30 393.28) scale(1 1.08) skewX(0.5)" font-size="8.35" font-weight="bold" xml:space="preserve" word-spacing="0.25" letter-spacing="-0.121">39 -  HARZLI  RANIA</text>
<text transform="translate(184.90 393.38) scale(1 1.09) skewX(0.5)" font-size="7.8" letter-spacing="-0.118">171739019815</text>
<text transform="translate(249.51 393.38) scale(1 1.09) skewX(0.5)" font-size="8.4" text-anchor="middle">1.0</text>
<text transform="translate(275.34 393.38) scale(1 1.09) skewX(0.5)" font-size="8.4" text-anchor="middle">1.0</text>
<text transform="translate(301.16 393.38) scale(1 1.09) skewX(0.5)" font-size="8.4" text-anchor="middle">00</text>
<text transform="translate(326.98 393.38) scale(1 1.09) skewX(0.5)" font-size="8.4" text-anchor="middle">6.45</text>
<text transform="translate(352.81 393.38) scale(1 1.09) skewX(0.5)" font-size="8.4" text-anchor="middle">4.0</text>
<text transform="translate(378.63 393.38) scale(1 1.09) skewX(0.5)" font-size="8.4" text-anchor="middle">6.6</text>
<text transform="translate(404.45 393.38) scale(1 1.09) skewX(0.5)" font-size="8.4" text-anchor="middle">5.81</text>
<text transform="translate(430.28 393.38) scale(1 1.09) skewX(0.5)" font-size="8.4" text-anchor="middle">00</text>
<text transform="translate(456.10 393.38) scale(1 1.09) skewX(0.5)" font-size="8.4" text-anchor="middle">7.2</text>
<text transform="translate(481.92 393.38) scale(1 1.09) skewX(0.5)" font-size="8.4" text-anchor="middle">9.6</text>
<text transform="translate(507.75 393.38) scale(1 1.09) skewX(0.5)" font-size="8.4" text-anchor="middle">8.4</text>
<text transform="translate(533.57 393.38) scale(1 1.09) skewX(0.5)" font-size="8.4" text-anchor="middle">00</text>
<text transform="translate(559.39 393.38) scale(1 1.09) skewX(0.5)" font-size="8.4" text-anchor="middle">0.5</text>
<text transform="translate(585.22 393.38) scale(1 1.09) skewX(0.5)" font-size="8.4" text-anchor="middle">0.5</text>
<text transform="translate(611.04 393.38) scale(1 1.09) skewX(0.5)" font-size="8.4" text-anchor="middle">00</text>
<text transform="translate(636.86 393.38) scale(1 1.09) skewX(0.5)" font-size="8.4" text-anchor="middle">00</text>
<text transform="translate(662.69 393.38) scale(1 1.09) skewX(0.5)" font-size="8.4" text-anchor="middle">5.83</text>
<text transform="translate(43.30 409.60) scale(1 1.08) skewX(0.5)" font-size="8.35" font-weight="bold" xml:space="preserve" word-spacing="0.25" letter-spacing="-0.176">40 -  KEDIRI  REKIA</text>
<text transform="translate(184.90 409.70) scale(1 1.09) skewX(0.5)" font-size="7.8" letter-spacing="-0.093">181839028711</text>
<text transform="translate(249.51 409.70) scale(1 1.09) skewX(0.5)" font-size="8.4" text-anchor="middle">16.0</text>
<text transform="translate(275.34 409.70) scale(1 1.09) skewX(0.5)" font-size="8.4" text-anchor="middle">16.0</text>
<text transform="translate(301.16 409.70) scale(1 1.09) skewX(0.5)" font-size="8.4" text-anchor="middle">01</text>
<text transform="translate(326.98 409.70) scale(1 1.09) skewX(0.5)" font-size="8.4" text-anchor="middle">15.7</text>
<text transform="translate(352.81 409.70) scale(1 1.09) skewX(0.5)" font-size="8.4" text-anchor="middle">15.6</text>
<text transform="translate(378.63 409.70) scale(1 1.09) skewX(0.5)" font-size="8.4" text-anchor="middle">14.9</text>
<text transform="translate(404.45 409.70) scale(1 1.09) skewX(0.5)" font-size="8.4" text-anchor="middle">15.33</text>
<text transform="translate(430.28 409.70) scale(1 1.09) skewX(0.5)" font-size="8.4" text-anchor="middle">18</text>
<text transform="translate(456.10 409.70) scale(1 1.09) skewX(0.5)" font-size="8.4" text-anchor="middle">17.8</text>
<text transform="translate(481.92 409.70) scale(1 1.09) skewX(0.5)" font-size="8.4" text-anchor="middle">10.6</text>
<text transform="translate(507.75 409.70) scale(1 1.09) skewX(0.5)" font-size="8.4" text-anchor="middle">14.2</text>
<text transform="translate(533.57 409.70) scale(1 1.09) skewX(0.5)" font-size="8.4" text-anchor="middle">10</text>
<text transform="translate(559.39 409.70) scale(1 1.09) skewX(0.5)" font-size="8.4" text-anchor="middle">10.0</text>
<text transform="translate(585.22 409.70) scale(1 1.09) skewX(0.5)" font-size="8.4" text-anchor="middle">10.0</text>
<text transform="translate(611.04 409.70) scale(1 1.09) skewX(0.5)" font-size="8.4" text-anchor="middle">01</text>
<text transform="translate(636.86 409.70) scale(1 1.09) skewX(0.5)" font-size="8.4" text-anchor="middle">30</text>
<text transform="translate(662.69 409.70) scale(1 1.09) skewX(0.5)" font-size="8.4" text-anchor="middle">14.62</text>
<text transform="translate(43.30 425.92) scale(1 1.08) skewX(0.5)" font-size="8.35" font-weight="bold" xml:space="preserve" word-spacing="0.25" letter-spacing="-0.184">41 -  KESRI  TOIFIK</text>
<text transform="translate(184.90 426.02) scale(1 1.09) skewX(0.5)" font-size="7.8" letter-spacing="-0.118">171739029087</text>
<text transform="translate(249.51 426.02) scale(1 1.09) skewX(0.5)" font-size="8.4" text-anchor="middle">0.0</text>
<text transform="translate(275.34 426.02) scale(1 1.09) skewX(0.5)" font-size="8.4" text-anchor="middle">0.0</text>
<text transform="translate(301.16 426.02) scale(1 1.09) skewX(0.5)" font-size="8.4" text-anchor="middle">00</text>
<text transform="translate(326.98 426.02) scale(1 1.09) skewX(0.5)" font-size="8.4" text-anchor="middle">0.0</text>
<text transform="translate(352.81 426.02) scale(1 1.09) skewX(0.5)" font-size="8.4" text-anchor="middle">0.0</text>
<text transform="translate(378.63 426.02) scale(1 1.09) skewX(0.5)" font-size="8.4" text-anchor="middle">0.0</text>
<text transform="translate(404.45 426.02) scale(1 1.09) skewX(0.5)" font-size="8.4" text-anchor="middle">0.0</text>
<text transform="translate(430.28 426.02) scale(1 1.09) skewX(0.5)" font-size="8.4" text-anchor="middle">00</text>
<text transform="translate(456.10 426.02) scale(1 1.09) skewX(0.5)" font-size="8.4" text-anchor="middle">0.0</text>
<text transform="translate(481.92 426.02) scale(1 1.09) skewX(0.5)" font-size="8.4" text-anchor="middle">0.0</text>
<text transform="translate(507.75 426.02) scale(1 1.09) skewX(0.5)" font-size="8.4" text-anchor="middle">0.0</text>
<text transform="translate(533.57 426.02) scale(1 1.09) skewX(0.5)" font-size="8.4" text-anchor="middle">00</text>
<text transform="translate(559.39 426.02) scale(1 1.09) skewX(0.5)" font-size="8.4" text-anchor="middle">0.0</text>
<text transform="translate(585.22 426.02) scale(1 1.09) skewX(0.5)" font-size="8.4" text-anchor="middle">0.0</text>
<text transform="translate(611.04 426.02) scale(1 1.09) skewX(0.5)" font-size="8.4" text-anchor="middle">00</text>
<text transform="translate(636.86 426.02) scale(1 1.09) skewX(0.5)" font-size="8.4" text-anchor="middle">00</text>
<text transform="translate(662.69 426.02) scale(1 1.09) skewX(0.5)" font-size="8.4" text-anchor="middle">0.0</text>
<text transform="translate(43.30 438.48) scale(1 1.08) skewX(0.5)" font-size="8.35" font-weight="bold" xml:space="preserve" word-spacing="0.25" letter-spacing="-0.113">42 -  KHADIR  MOHAMED</text>
<text transform="translate(41.40 448.38) scale(1 1.08) skewX(0.5)" font-size="8.35" font-weight="bold" letter-spacing="-0.222">LAMINE</text>
<text transform="translate(184.90 441.98) scale(1 1.09) skewX(0.5)" font-size="7.8" letter-spacing="-0.118">181839025867</text>
<text transform="translate(249.51 441.98) scale(1 1.09) skewX(0.5)" font-size="8.4" text-anchor="middle">18.0</text>
<text transform="translate(275.34 441.98) scale(1 1.09) skewX(0.5)" font-size="8.4" text-anchor="middle">18.0</text>
<text transform="translate(301.16 441.98) scale(1 1.09) skewX(0.5)" font-size="8.4" text-anchor="middle">01</text>
<text transform="translate(326.98 441.98) scale(1 1.09) skewX(0.5)" font-size="8.4" text-anchor="middle">8.0</text>
<text transform="translate(352.81 441.98) scale(1 1.09) skewX(0.5)" font-size="8.4" text-anchor="middle">10.1</text>
<text transform="translate(378.63 441.98) scale(1 1.09) skewX(0.5)" font-size="8.4" text-anchor="middle">7.9</text>
<text transform="translate(404.45 441.98) scale(1 1.09) skewX(0.5)" font-size="8.4" text-anchor="middle">8.56</text>
<text transform="translate(430.28 441.98) scale(1 1.09) skewX(0.5)" font-size="8.4" text-anchor="middle">06</text>
<text transform="translate(456.10 441.98) scale(1 1.09) skewX(0.5)" font-size="8.4" text-anchor="middle">14.3</text>
<text transform="translate(481.92 441.98) scale(1 1.09) skewX(0.5)" font-size="8.4" text-anchor="middle">9.4</text>
<text transform="translate(507.75 441.98) scale(1 1.09) skewX(0.5)" font-size="8.4" text-anchor="middle">11.85</text>
<text transform="translate(533.57 441.98) scale(1 1.09) skewX(0.5)" font-size="8.4" text-anchor="middle">10</text>
<text transform="translate(559.39 441.98) scale(1 1.09) skewX(0.5)" font-size="8.4" text-anchor="middle">2.0</text>
<text transform="translate(585.22 441.98) scale(1 1.09) skewX(0.5)" font-size="8.4" text-anchor="middle">2.0</text>
<text transform="translate(611.04 441.98) scale(1 1.09) skewX(0.5)" font-size="8.4" text-anchor="middle">00</text>
<text transform="translate(636.86 441.98) scale(1 1.09) skewX(0.5)" font-size="8.4" text-anchor="middle">17</text>
<text transform="translate(662.69 441.98) scale(1 1.09) skewX(0.5)" font-size="8.4" text-anchor="middle">9.79</text>
<text transform="translate(43.30 461.24) scale(1 1.08) skewX(0.5)" font-size="8.35" font-weight="bold" xml:space="preserve" word-spacing="0.25" letter-spacing="-0.195">43 -  KHELIL  KHEIRA</text>
<text transform="translate(184.90 461.34) scale(1 1.09) skewX(0.5)" font-size="7.8" letter-spacing="-0.118">181839018857</text>
<text transform="translate(249.51 461.34) scale(1 1.09) skewX(0.5)" font-size="8.4" text-anchor="middle">16.0</text>
<text transform="translate(275.34 461.34) scale(1 1.09) skewX(0.5)" font-size="8.4" text-anchor="middle">16.0</text>
<text transform="translate(301.16 461.34) scale(1 1.09) skewX(0.5)" font-size="8.4" text-anchor="middle">01</text>
<text transform="translate(326.98 461.34) scale(1 1.09) skewX(0.5)" font-size="8.4" text-anchor="middle">10.45</text>
<text transform="translate(352.81 461.34) scale(1 1.09) skewX(0.5)" font-size="8.4" text-anchor="middle">8.2</text>
<text transform="translate(378.63 461.34) scale(1 1.09) skewX(0.5)" font-size="8.4" text-anchor="middle">8.2</text>
<text transform="translate(404.45 461.34) scale(1 1.09) skewX(0.5)" font-size="8.4" text-anchor="middle">8.84</text>
<text transform="translate(430.28 461.34) scale(1 1.09) skewX(0.5)" font-size="8.4" text-anchor="middle">05</text>
<text transform="translate(456.10 461.34) scale(1 1.09) skewX(0.5)" font-size="8.4" text-anchor="middle">17.8</text>
<text transform="translate(481.92 461.34) scale(1 1.09) skewX(0.5)" font-size="8.4" text-anchor="middle">5.4</text>
<text transform="translate(507.75 461.34) scale(1 1.09) skewX(0.5)" font-size="8.4" text-anchor="middle">11.6</text>
<text transform="translate(533.57 461.34) scale(1 1.09) skewX(0.5)" font-size="8.4" text-anchor="middle">10</text>
<text transform="translate(559.39 461.34) scale(1 1.09) skewX(0.5)" font-size="8.4" text-anchor="middle">6.0</text>
<text transform="translate(585.22 461.34) scale(1 1.09) skewX(0.5)" font-size="8.4" text-anchor="middle">6.0</text>
<text transform="translate(611.04 461.34) scale(1 1.09) skewX(0.5)" font-size="8.4" text-anchor="middle">00</text>
<text transform="translate(636.86 461.34) scale(1 1.09) skewX(0.5)" font-size="8.4" text-anchor="middle">30</text>
<text transform="translate(662.69 461.34) scale(1 1.09) skewX(0.5)" font-size="8.4" text-anchor="middle">10.02</text>
<text transform="translate(43.30 477.56) scale(1 1.08) skewX(0.5)" font-size="8.35" font-weight="bold" xml:space="preserve" word-spacing="0.25" letter-spacing="-0.107">44 -  KHERADEL  HOSSIN</text>
<text transform="translate(184.90 477.66) scale(1 1.09) skewX(0.5)" font-size="7.8" letter-spacing="-0.118">181839028536</text>
<text transform="translate(249.51 477.66) scale(1 1.09) skewX(0.5)" font-size="8.4" text-anchor="middle">12.0</text>
<text transform="translate(275.34 477.66) scale(1 1.09) skewX(0.5)" font-size="8.4" text-anchor="middle">12.0</text>
<text transform="translate(301.16 477.66) scale(1 1.09) skewX(0.5)" font-size="8.4" text-anchor="middle">01</text>
<text transform="translate(326.98 477.66) scale(1 1.09) skewX(0.5)" font-size="8.4" text-anchor="middle">7.2</text>
<text transform="translate(352.81 477.66) scale(1 1.09) skewX(0.5)" font-size="8.4" text-anchor="middle">5.95</text>
<text transform="translate(378.63 477.66) scale(1 1.09) skewX(0.5)" font-size="8.4" text-anchor="middle">4.0</text>
<text transform="translate(404.45 477.66) scale(1 1.09) skewX(0.5)" font-size="8.4" text-anchor="middle">5.47</text>
<text transform="translate(430.28 477.66) scale(1 1.09) skewX(0.5)" font-size="8.4" text-anchor="middle">00</text>
<text transform="translate(456.10 477.66) scale(1 1.09) skewX(0.5)" font-size="8.4" text-anchor="middle">9.9</text>
<text transform="translate(481.92 477.66) scale(1 1.09) skewX(0.5)" font-size="8.4" text-anchor="middle">9.8</text>
<text transform="translate(507.75 477.66) scale(1 1.09) skewX(0.5)" font-size="8.4" text-anchor="middle">9.85</text>
<text transform="translate(533.57 477.66) scale(1 1.09) skewX(0.5)" font-size="8.4" text-anchor="middle">00</text>
<text transform="translate(559.39 477.66) scale(1 1.09) skewX(0.5)" font-size="8.4" text-anchor="middle">0.0</text>
<text transform="translate(585.22 477.66) scale(1 1.09) skewX(0.5)" font-size="8.4" text-anchor="middle">0.0</text>
<text transform="translate(611.04 477.66) scale(1 1.09) skewX(0.5)" font-size="8.4" text-anchor="middle">00</text>
<text transform="translate(636.86 477.66) scale(1 1.09) skewX(0.5)" font-size="8.4" text-anchor="middle">01</text>
<text transform="translate(662.69 477.66) scale(1 1.09) skewX(0.5)" font-size="8.4" text-anchor="middle">6.9</text>
<text transform="translate(43.30 493.88) scale(1 1.08) skewX(0.5)" font-size="8.35" font-weight="bold" xml:space="preserve" word-spacing="0.25" letter-spacing="-0.090">45 -  KIHAL  MOHAMED</text>
<text transform="translate(184.90 493.98) scale(1 1.09) skewX(0.5)" font-size="7.8" letter-spacing="-0.118">181839020427</text>
<text transform="translate(249.51 493.98) scale(1 1.09) skewX(0.5)" font-size="8.4" text-anchor="middle">0.0</text>
<text transform="translate(275.34 493.98) scale(1 1.09) skewX(0.5)" font-size="8.4" text-anchor="middle">0.0</text>
<text transform="translate(301.16 493.98) scale(1 1.09) skewX(0.5)" font-size="8.4" text-anchor="middle">00</text>
<text transform="translate(326.98 493.98) scale(1 1.09) skewX(0.5)" font-size="8.4" text-anchor="middle">3.45</text>
<text transform="translate(352.81 493.98) scale(1 1.09) skewX(0.5)" font-size="8.4" text-anchor="middle">2.8</text>
<text transform="translate(378.63 493.98) scale(1 1.09) skewX(0.5)" font-size="8.4" text-anchor="middle">4.0</text>
<text transform="translate(404.45 493.98) scale(1 1.09) skewX(0.5)" font-size="8.4" text-anchor="middle">3.5</text>
<text transform="translate(430.28 493.98) scale(1 1.09) skewX(0.5)" font-size="8.4" text-anchor="middle">00</text>
<text transform="translate(456.10 493.98) scale(1 1.09) skewX(0.5)" font-size="8.4" text-anchor="middle">10.8</text>
<text transform="translate(481.92 493.98) scale(1 1.09) skewX(0.5)" font-size="8.4" text-anchor="middle">6.0</text>
<text transform="translate(507.75 493.98) scale(1 1.09) skewX(0.5)" font-size="8.4" text-anchor="middle">8.4</text>
<text transform="translate(533.57 493.98) scale(1 1.09) skewX(0.5)" font-size="8.4" text-anchor="middle">05</text>
<text transform="translate(559.39 493.98) scale(1 1.09) skewX(0.5)" font-size="8.4" text-anchor="middle">0.5</text>
<text transform="translate(585.22 493.98) scale(1 1.09) skewX(0.5)" font-size="8.4" text-anchor="middle">0.5</text>
<text transform="translate(611.04 493.98) scale(1 1.09) skewX(0.5)" font-size="8.4" text-anchor="middle">00</text>
<text transform="translate(636.86 493.98) scale(1 1.09) skewX(0.5)" font-size="8.4" text-anchor="middle">05</text>
<text transform="translate(662.69 493.98) scale(1 1.09) skewX(0.5)" font-size="8.4" text-anchor="middle">4.51</text>
<text transform="translate(43.30 510.20) scale(1 1.08) skewX(0.5)" font-size="8.35" font-weight="bold" xml:space="preserve" word-spacing="0.25" letter-spacing="-0.086">46 -  KORIGA  FAIZA</text>
<text transform="translate(184.90 510.30) scale(1 1.09) skewX(0.5)" font-size="7.8" letter-spacing="-0.118">181839020309</text>
<text transform="translate(249.51 510.30) scale(1 1.09) skewX(0.5)" font-size="8.4" text-anchor="middle">16.0</text>
<text transform="translate(275.34 510.30) scale(1 1.09) skewX(0.5)" font-size="8.4" text-anchor="middle">16.0</text>
<text transform="translate(301.16 510.30) scale(1 1.09) skewX(0.5)" font-size="8.4" text-anchor="middle">01</text>
<text transform="translate(326.98 510.30) scale(1 1.09) skewX(0.5)" font-size="8.4" text-anchor="middle">9.05</text>
<text transform="translate(352.81 510.30) scale(1 1.09) skewX(0.5)" font-size="8.4" text-anchor="middle">9.0</text>
<text transform="translate(378.63 510.30) scale(1 1.09) skewX(0.5)" font-size="8.4" text-anchor="middle">7.9</text>
<text transform="translate(404.45 510.30) scale(1 1.09) skewX(0.5)" font-size="8.4" text-anchor="middle">8.54</text>
<text transform="translate(430.28 510.30) scale(1 1.09) skewX(0.5)" font-size="8.4" text-anchor="middle">00</text>
<text transform="translate(456.10 510.30) scale(1 1.09) skewX(0.5)" font-size="8.4" text-anchor="middle">12.0</text>
<text transform="translate(481.92 510.30) scale(1 1.09) skewX(0.5)" font-size="8.4" text-anchor="middle">9.2</text>
<text transform="translate(507.75 510.30) scale(1 1.09) skewX(0.5)" font-size="8.4" text-anchor="middle">10.6</text>
<text transform="translate(533.57 510.30) scale(1 1.09) skewX(0.5)" font-size="8.4" text-anchor="middle">10</text>
<text transform="translate(559.39 510.30) scale(1 1.09) skewX(0.5)" font-size="8.4" text-anchor="middle">6.0</text>
<text transform="translate(585.22 510.30) scale(1 1.09) skewX(0.5)" font-size="8.4" text-anchor="middle">6.0</text>
<text transform="translate(611.04 510.30) scale(1 1.09) skewX(0.5)" font-size="8.4" text-anchor="middle">00</text>
<text transform="translate(636.86 510.30) scale(1 1.09) skewX(0.5)" font-size="8.4" text-anchor="middle">11</text>
<text transform="translate(662.69 510.30) scale(1 1.09) skewX(0.5)" font-size="8.4" text-anchor="middle">9.55</text>
<text transform="translate(43.30 526.52) scale(1 1.08) skewX(0.5)" font-size="8.35" font-weight="bold" xml:space="preserve" word-spacing="0.25" letter-spacing="-0.122">47 -  LAKHNECHE  DALAL</text>
<text transform="translate(184.90 526.62) scale(1 1.09) skewX(0.5)" font-size="7.8" letter-spacing="-0.118">181839019768</text>
<text transform="translate(249.51 526.62) scale(1 1.09) skewX(0.5)" font-size="8.4" text-anchor="middle">18.0</text>
<text transform="translate(275.34 526.62) scale(1 1.09) skewX(0.5)" font-size="8.4" text-anchor="middle">18.0</text>
<text transform="translate(301.16 526.62) scale(1 1.09) skewX(0.5)" font-size="8.4" text-anchor="middle">01</text>
<text transform="translate(326.98 526.62) scale(1 1.09) skewX(0.5)" font-size="8.4" text-anchor="middle">13.9</text>
<text transform="translate(352.81 526.62) scale(1 1.09) skewX(0.5)" font-size="8.4" text-anchor="middle">8.5</text>
<text transform="translate(378.63 526.62) scale(1 1.09) skewX(0.5)" font-size="8.4" text-anchor="middle">6.6</text>
<text transform="translate(404.45 526.62) scale(1 1.09) skewX(0.5)" font-size="8.4" text-anchor="middle">9.23</text>
<text transform="translate(430.28 526.62) scale(1 1.09) skewX(0.5)" font-size="8.4" text-anchor="middle">05</text>
<text transform="translate(456.10 526.62) scale(1 1.09) skewX(0.5)" font-size="8.4" text-anchor="middle">14.6</text>
<text transform="translate(481.92 526.62) scale(1 1.09) skewX(0.5)" font-size="8.4" text-anchor="middle">11.0</text>
<text transform="translate(507.75 526.62) scale(1 1.09) skewX(0.5)" font-size="8.4" text-anchor="middle">12.8</text>
<text transform="translate(533.57 526.62) scale(1 1.09) skewX(0.5)" font-size="8.4" text-anchor="middle">10</text>
<text transform="translate(559.39 526.62) scale(1 1.09) skewX(0.5)" font-size="8.4" text-anchor="middle">10.0</text>
<text transform="translate(585.22 526.62) scale(1 1.09) skewX(0.5)" font-size="8.4" text-anchor="middle">10.0</text>
<text transform="translate(611.04 526.62) scale(1 1.09) skewX(0.5)" font-size="8.4" text-anchor="middle">01</text>
<text transform="translate(636.86 526.62) scale(1 1.09) skewX(0.5)" font-size="8.4" text-anchor="middle">30</text>
<text transform="translate(662.69 526.62) scale(1 1.09) skewX(0.5)" font-size="8.4" text-anchor="middle">11.06</text>
<text transform="translate(43.30 542.84) scale(1 1.08) skewX(0.5)" font-size="8.35" font-weight="bold" xml:space="preserve" word-spacing="0.25" letter-spacing="-0.108">48 -  LASSALI  HICHAM ALI</text>
<text transform="translate(184.90 542.94) scale(1 1.09) skewX(0.5)" font-size="7.8" letter-spacing="-0.118">181839023074</text>
<text transform="translate(249.51 542.94) scale(1 1.09) skewX(0.5)" font-size="8.4" text-anchor="middle">2.0</text>
<text transform="translate(275.34 542.94) scale(1 1.09) skewX(0.5)" font-size="8.4" text-anchor="middle">2.0</text>
<text transform="translate(301.16 542.94) scale(1 1.09) skewX(0.5)" font-size="8.4" text-anchor="middle">00</text>
<text transform="translate(326.98 542.94) scale(1 1.09) skewX(0.5)" font-size="8.4" text-anchor="middle">8.95</text>
<text transform="translate(352.81 542.94) scale(1 1.09) skewX(0.5)" font-size="8.4" text-anchor="middle">6.5</text>
<text transform="translate(378.63 542.94) scale(1 1.09) skewX(0.5)" font-size="8.4" text-anchor="middle">4.0</text>
<text transform="translate(404.45 542.94) scale(1 1.09) skewX(0.5)" font-size="8.4" text-anchor="middle">6.13</text>
<text transform="translate(430.28 542.94) scale(1 1.09) skewX(0.5)" font-size="8.4" text-anchor="middle">00</text>
<text transform="translate(456.10 542.94) scale(1 1.09) skewX(0.5)" font-size="8.4" text-anchor="middle">16.4</text>
<text transform="translate(481.92 542.94) scale(1 1.09) skewX(0.5)" font-size="8.4" text-anchor="middle">9.6</text>
<text transform="translate(507.75 542.94) scale(1 1.09) skewX(0.5)" font-size="8.4" text-anchor="middle">13.0</text>
<text transform="translate(533.57 542.94) scale(1 1.09) skewX(0.5)" font-size="8.4" text-anchor="middle">10</text>
<text transform="translate(559.39 542.94) scale(1 1.09) skewX(0.5)" font-size="8.4" text-anchor="middle">1.0</text>
<text transform="translate(585.22 542.94) scale(1 1.09) skewX(0.5)" font-size="8.4" text-anchor="middle">1.0</text>
<text transform="translate(611.04 542.94) scale(1 1.09) skewX(0.5)" font-size="8.4" text-anchor="middle">00</text>
<text transform="translate(636.86 542.94) scale(1 1.09) skewX(0.5)" font-size="8.4" text-anchor="middle">10</text>
<text transform="translate(662.69 542.94) scale(1 1.09) skewX(0.5)" font-size="8.4" text-anchor="middle">7.53</text>
<text transform="translate(43.30 555.40) scale(1 1.08) skewX(0.5)" font-size="8.35" font-weight="bold" xml:space="preserve" word-spacing="0.25" letter-spacing="-0.045">49 -  LEBBAZ  ABDERRAHMANE</text>
<text transform="translate(184.90 558.90) scale(1 1.09) skewX(0.5)" font-size="7.8" letter-spacing="-0.118">181839021205</text>
<text transform="translate(249.51 558.90) scale(1 1.09) skewX(0.5)" font-size="8.4" text-anchor="middle">2.0</text>
<text transform="translate(275.34 558.90) scale(1 1.09) skewX(0.5)" font-size="8.4" text-anchor="middle">2.0</text>
<text transform="translate(301.16 558.90) scale(1 1.09) skewX(0.5)" font-size="8.4" text-anchor="middle">00</text>
<text transform="translate(326.98 558.90) scale(1 1.09) skewX(0.5)" font-size="8.4" text-anchor="middle">6.85</text>
<text transform="translate(352.81 558.90) scale(1 1.09) skewX(0.5)" font-size="8.4" text-anchor="middle">4.0</text>
<text transform="translate(378.63 558.90) scale(1 1.09) skewX(0.5)" font-size="8.4" text-anchor="middle">4.0</text>
<text transform="translate(404.45 558.90) scale(1 1.09) skewX(0.5)" font-size="8.4" text-anchor="middle">4.81</text>
<text transform="translate(430.28 558.90) scale(1 1.09) skewX(0.5)" font-size="8.4" text-anchor="middle">00</text>
<text transform="translate(456.10 558.90) scale(1 1.09) skewX(0.5)" font-size="8.4" text-anchor="middle">14.2</text>
<text transform="translate(481.92 558.90) scale(1 1.09) skewX(0.5)" font-size="8.4" text-anchor="middle">9.0</text>
<text transform="translate(507.75 558.90) scale(1 1.09) skewX(0.5)" font-size="8.4" text-anchor="middle">11.6</text>
<text transform="translate(533.57 558.90) scale(1 1.09) skewX(0.5)" font-size="8.4" text-anchor="middle">10</text>
<text transform="translate(559.39 558.90) scale(1 1.09) skewX(0.5)" font-size="8.4" text-anchor="middle">0.0</text>
<text transform="translate(585.22 558.90) scale(1 1.09) skewX(0.5)" font-size="8.4" text-anchor="middle">0.0</text>
<text transform="translate(611.04 558.90) scale(1 1.09) skewX(0.5)" font-size="8.4" text-anchor="middle">00</text>
<text transform="translate(636.86 558.90) scale(1 1.09) skewX(0.5)" font-size="8.4" text-anchor="middle">10</text>
<text transform="translate(662.69 558.90) scale(1 1.09) skewX(0.5)" font-size="8.4" text-anchor="middle">6.31</text>
<text transform="translate(43.30 578.16) scale(1 1.08) skewX(0.5)" font-size="8.35" font-weight="bold" xml:space="preserve" word-spacing="0.25" letter-spacing="-0.028">50 -  LEBNA  HAMZA</text>
<text transform="translate(184.90 578.26) scale(1 1.09) skewX(0.5)" font-size="7.8" letter-spacing="-0.093">181839021163</text>
<text transform="translate(249.51 578.26) scale(1 1.09) skewX(0.5)" font-size="8.4" text-anchor="middle">2.0</text>
<text transform="translate(275.34 578.26) scale(1 1.09) skewX(0.5)" font-size="8.4" text-anchor="middle">2.0</text>
<text transform="translate(301.16 578.26) scale(1 1.09) skewX(0.5)" font-size="8.4" text-anchor="middle">00</text>
<text transform="translate(326.98 578.26) scale(1 1.09) skewX(0.5)" font-size="8.4" text-anchor="middle">5.35</text>
<text transform="translate(352.81 578.26) scale(1 1.09) skewX(0.5)" font-size="8.4" text-anchor="middle">4.8</text>
<text transform="translate(378.63 578.26) scale(1 1.09) skewX(0.5)" font-size="8.4" text-anchor="middle">4.0</text>
<text transform="translate(404.45 578.26) scale(1 1.09) skewX(0.5)" font-size="8.4" text-anchor="middle">4.61</text>
<text transform="translate(430.28 578.26) scale(1 1.09) skewX(0.5)" font-size="8.4" text-anchor="middle">00</text>
<text transform="translate(456.10 578.26) scale(1 1.09) skewX(0.5)" font-size="8.4" text-anchor="middle">11.0</text>
<text transform="translate(481.92 578.26) scale(1 1.09) skewX(0.5)" font-size="8.4" text-anchor="middle">8.6</text>
<text transform="translate(507.75 578.26) scale(1 1.09) skewX(0.5)" font-size="8.4" text-anchor="middle">9.8</text>
<text transform="translate(533.57 578.26) scale(1 1.09) skewX(0.5)" font-size="8.4" text-anchor="middle">05</text>
<text transform="translate(559.39 578.26) scale(1 1.09) skewX(0.5)" font-size="8.4" text-anchor="middle">0.5</text>
<text transform="translate(585.22 578.26) scale(1 1.09) skewX(0.5)" font-size="8.4" text-anchor="middle">0.5</text>
<text transform="translate(611.04 578.26) scale(1 1.09) skewX(0.5)" font-size="8.4" text-anchor="middle">00</text>
<text transform="translate(636.86 578.26) scale(1 1.09) skewX(0.5)" font-size="8.4" text-anchor="middle">05</text>
<text transform="translate(662.69 578.26) scale(1 1.09) skewX(0.5)" font-size="8.4" text-anchor="middle">5.69</text>
<text transform="translate(43.30 594.48) scale(1 1.08) skewX(0.5)" font-size="8.35" font-weight="bold" xml:space="preserve" word-spacing="0.25" letter-spacing="-0.103">51 -  MAAMRI  SALEM</text>
<text transform="translate(184.90 594.58) scale(1 1.09) skewX(0.5)" font-size="7.8" letter-spacing="-0.118">171739028210</text>
<text transform="translate(249.51 594.58) scale(1 1.09) skewX(0.5)" font-size="8.4" text-anchor="middle">16.0</text>
<text transform="translate(275.34 594.58) scale(1 1.09) skewX(0.5)" font-size="8.4" text-anchor="middle">16.0</text>
<text transform="translate(301.16 594.58) scale(1 1.09) skewX(0.5)" font-size="8.4" text-anchor="middle">01</text>
<text transform="translate(326.98 594.58) scale(1 1.09) skewX(0.5)" font-size="8.4" text-anchor="middle">10.0</text>
<text transform="translate(352.81 594.58) scale(1 1.09) skewX(0.5)" font-size="8.4" text-anchor="middle">4.8</text>
<text transform="translate(378.63 594.58) scale(1 1.09) skewX(0.5)" font-size="8.4" text-anchor="middle">4.0</text>
<text transform="translate(404.45 594.58) scale(1 1.09) skewX(0.5)" font-size="8.4" text-anchor="middle">5.94</text>
<text transform="translate(430.28 594.58) scale(1 1.09) skewX(0.5)" font-size="8.4" text-anchor="middle">05</text>
<text transform="translate(456.10 594.58) scale(1 1.09) skewX(0.5)" font-size="8.4" text-anchor="middle">14.7</text>
<text transform="translate(481.92 594.58) scale(1 1.09) skewX(0.5)" font-size="8.4" text-anchor="middle">9.0</text>
<text transform="translate(507.75 594.58) scale(1 1.09) skewX(0.5)" font-size="8.4" text-anchor="middle">11.85</text>
<text transform="translate(533.57 594.58) scale(1 1.09) skewX(0.5)" font-size="8.4" text-anchor="middle">10</text>
<text transform="translate(559.39 594.58) scale(1 1.09) skewX(0.5)" font-size="8.4" text-anchor="middle">0.0</text>
<text transform="translate(585.22 594.58) scale(1 1.09) skewX(0.5)" font-size="8.4" text-anchor="middle">0.0</text>
<text transform="translate(611.04 594.58) scale(1 1.09) skewX(0.5)" font-size="8.4" text-anchor="middle">00</text>
<text transform="translate(636.86 594.58) scale(1 1.09) skewX(0.5)" font-size="8.4" text-anchor="middle">16</text>
<text transform="translate(662.69 594.58) scale(1 1.09) skewX(0.5)" font-size="8.4" text-anchor="middle">8.08</text>
<text transform="translate(43.30 610.80) scale(1 1.08) skewX(0.5)" font-size="8.35" font-weight="bold" xml:space="preserve" word-spacing="0.25" letter-spacing="-0.161">52 -  MAMMERI  IBRAHIM</text>
<text transform="translate(184.90 610.90) scale(1 1.09) skewX(0.5)" font-size="7.8" letter-spacing="-0.118">171739029952</text>
<text transform="translate(249.51 610.90) scale(1 1.09) skewX(0.5)" font-size="8.4" text-anchor="middle">2.0</text>
<text transform="translate(275.34 610.90) scale(1 1.09) skewX(0.5)" font-size="8.4" text-anchor="middle">2.0</text>
<text transform="translate(301.16 610.90) scale(1 1.09) skewX(0.5)" font-size="8.4" text-anchor="middle">00</text>
<text transform="translate(326.98 610.90) scale(1 1.09) skewX(0.5)" font-size="8.4" text-anchor="middle">6.9</text>
<text transform="translate(352.81 610.90) scale(1 1.09) skewX(0.5)" font-size="8.4" text-anchor="middle">3.6</text>
<text transform="translate(378.63 610.90) scale(1 1.09) skewX(0.5)" font-size="8.4" text-anchor="middle">4.8</text>
<text transform="translate(404.45 610.90) scale(1 1.09) skewX(0.5)" font-size="8.4" text-anchor="middle">5.06</text>
<text transform="translate(430.28 610.90) scale(1 1.09) skewX(0.5)" font-size="8.4" text-anchor="middle">00</text>
<text transform="translate(456.10 610.90) scale(1 1.09) skewX(0.5)" font-size="8.4" text-anchor="middle">9.6</text>
<text transform="translate(481.92 610.90) scale(1 1.09) skewX(0.5)" font-size="8.4" text-anchor="middle">9.2</text>
<text transform="translate(507.75 610.90) scale(1 1.09) skewX(0.5)" font-size="8.4" text-anchor="middle">9.4</text>
<text transform="translate(533.57 610.90) scale(1 1.09) skewX(0.5)" font-size="8.4" text-anchor="middle">00</text>
<text transform="translate(559.39 610.90) scale(1 1.09) skewX(0.5)" font-size="8.4" text-anchor="middle">0.5</text>
<text transform="translate(585.22 610.90) scale(1 1.09) skewX(0.5)" font-size="8.4" text-anchor="middle">0.5</text>
<text transform="translate(611.04 610.90) scale(1 1.09) skewX(0.5)" font-size="8.4" text-anchor="middle">00</text>
<text transform="translate(636.86 610.90) scale(1 1.09) skewX(0.5)" font-size="8.4" text-anchor="middle">00</text>
<text transform="translate(662.69 610.90) scale(1 1.09) skewX(0.5)" font-size="8.4" text-anchor="middle">5.81</text>
<text transform="translate(45.90 16.50) scale(1 1.07) skewX(0.5)" font-size="8.3" font-weight="bold" letter-spacing="-0.076">Année Académique:</text>
<text transform="translate(133.75 16.00) scale(1 1.04) skewX(0.5)" font-size="10.2" style="stroke-width:0.22px" letter-spacing="-0.037">2021/2022</text>
<text transform="translate(45.90 29.00) scale(1 1.07) skewX(0.5)" font-size="8.3" font-weight="bold" letter-spacing="-0.265">Filière:</text>
<text transform="translate(97.50 29.80) scale(1 1.04) skewX(0.5)" font-size="10.3" style="stroke-width:0.22px" letter-spacing="-0.033">sciences economiques</text>
<text transform="translate(45.90 39.90) scale(1 1.07) skewX(0.5)" font-size="8.3" font-weight="bold" letter-spacing="-0.188">Spécialité:</text>
<text transform="translate(97.50 41.50) scale(1 1.04) skewX(0.5)" font-size="10.3" style="stroke-width:0.22px" letter-spacing="-0.031">economie quantitative</text>
<text transform="translate(45.90 52.75) scale(1 1.07) skewX(0.5)" font-size="8.3" font-weight="bold" letter-spacing="-0.259">Niveau:</text>
<text transform="translate(97.80 54.80) scale(1 1.04) skewX(0.5)" font-size="10.3" style="stroke-width:0.22px" letter-spacing="-0.275">Master 1</text>
<text transform="translate(230.50 15.20) scale(1 1.07) skewX(0.5)" font-size="8.3" font-weight="bold" letter-spacing="-0.225">Domaine:</text>
<text transform="translate(278.00 16.00) scale(1 1.04) skewX(0.5)" font-size="10.2" style="stroke-width:0.22px" letter-spacing="0.045">Sciences Economiques, de Gestion et Commerciales</text>
<text transform="translate(225.00 52.60) scale(1 1.07) skewX(0.5)" font-size="8.1" font-weight="bold" letter-spacing="-0.082">Arrêté d’habilitation de l’offre de formation:</text>
<text transform="translate(514.30 54.4) scale(0.9 1) skewX(0.5)" font-size="8.7" font-family="'Liberation Serif','DejaVu Sans',sans-serif" direction="rtl" text-anchor="start">قرار</text>
<text transform="translate(497.50 54.4) scale(0.856 1) skewX(0.5)" font-size="8.7" font-family="'Liberation Serif','DejaVu Sans',sans-serif" direction="rtl" text-anchor="start">رقم</text>
<text transform="translate(463.20 54.40) skewX(0.5)" font-size="10.2">1170</text>
<text transform="translate(459.80 54.4) scale(0.98 1) skewX(0.5)" font-size="8.7" font-family="'Liberation Serif','DejaVu Sans',sans-serif" direction="rtl" text-anchor="start">المؤرّخ</text>
<text transform="translate(433.60 54.4) scale(0.79 1) skewX(0.5)" font-size="8.7" font-family="'Liberation Serif','DejaVu Sans',sans-serif" direction="rtl" text-anchor="start">في</text>
<text transform="translate(400.60 54.40) skewX(0.5)" font-size="10.2">N°09</text>
<text transform="translate(381.50 69.40) skewX(0.5)" font-size="12.16" font-weight="bold" letter-spacing="-0.361">PV de délibération Semestre 2</text>
<text transform="translate(535.40 69.40) skewX(0.5)" font-size="12.16" font-weight="bold">-</text>
<text transform="translate(544.50 69.40) skewX(0.5)" font-size="12.16" font-weight="bold" letter-spacing="-0.237">2021/2022 (Session :Normale)</text>
<text transform="translate(25.10 645.30) scale(1 1.05) skewX(0.5)" font-size="8.5" style="stroke-width:0.3px" letter-spacing="0.011">Nombre total des étudiants:</text>
<text transform="translate(144.10 645.90) skewX(0.5)" font-size="10.4" font-family="'Liberation Sans','DejaVu Sans',sans-serif">63</text>
<text transform="translate(193.50 645.30) scale(1 1.05) skewX(0.5)" font-size="8.5" style="stroke-width:0.3px" letter-spacing="0.064">Nombre total étudiants admis:</text>
<text transform="translate(326.50 645.90) skewX(0.5)" font-size="10.4" font-family="'Liberation Sans','DejaVu Sans',sans-serif">20</text>
<text transform="translate(417.50 645.30) scale(1 1.05) skewX(0.5)" font-size="8.5" style="stroke-width:0.3px" letter-spacing="0.020">Nombre des étudiants ajournés:</text>
<text transform="translate(552.00 643.90) skewX(0.5)" font-size="10.4" font-family="'Liberation Sans','DejaVu Sans',sans-serif">43</text>
<text transform="translate(911.00 646.00) skewX(0.5)" font-size="8.5" letter-spacing="0.067">Le: 17-06-2022</text>
<text transform="translate(23.00 659.20) scale(1 1.05) skewX(0.5)" font-size="8.5" style="stroke-width:0.32px" letter-spacing="0.040">Nom,Prénom et Signature des enseignants:</text>
<text transform="translate(22.60 674.50) scale(1 1.05) skewX(0.5)" font-size="8.5" style="stroke-width:0.3px" letter-spacing="0.022">1-<tspan style="stroke-width:0.06px">....................................</tspan></text>
<text transform="translate(200.00 674.50) scale(1 1.05) skewX(0.5)" font-size="8.5" style="stroke-width:0.3px" letter-spacing="0.038">2-<tspan style="stroke-width:0.06px">....................................</tspan></text>
<text transform="translate(384.00 674.50) scale(1 1.05) skewX(0.5)" font-size="8.5" style="stroke-width:0.3px" letter-spacing="0.011">3-<tspan style="stroke-width:0.06px">....................................</tspan></text>
<text transform="translate(561.00 674.50) scale(1 1.05) skewX(0.5)" font-size="8.5" style="stroke-width:0.3px" letter-spacing="0.038">4-<tspan style="stroke-width:0.06px">....................................</tspan></text>
<text transform="translate(700.50 674.50) scale(1 1.05) skewX(0.5)" font-size="8.5" style="stroke-width:0.3px" letter-spacing="0.011">5-<tspan style="stroke-width:0.06px">....................................</tspan></text>
<text transform="translate(878.50 674.50) scale(1 1.05) skewX(0.5)" font-size="8.5" style="stroke-width:0.3px" letter-spacing="0.024">6-<tspan style="stroke-width:0.06px">....................................</tspan></text>
<text transform="translate(22.60 690.60) scale(1 1.05) skewX(0.5)" font-size="8.5" style="stroke-width:0.3px" letter-spacing="0.022">7-<tspan style="stroke-width:0.06px">....................................</tspan></text>
<text transform="translate(200.00 690.60) scale(1 1.05) skewX(0.5)" font-size="8.5" style="stroke-width:0.3px" letter-spacing="0.038">8-<tspan style="stroke-width:0.06px">....................................</tspan></text>
<text transform="translate(384.00 690.60) scale(1 1.05) skewX(0.5)" font-size="8.5" style="stroke-width:0.3px" letter-spacing="0.011">9-<tspan style="stroke-width:0.06px">....................................</tspan></text>
<text transform="translate(561.00 690.60) scale(1 1.05) skewX(0.5)" font-size="8.5" style="stroke-width:0.3px" letter-spacing="0.044">10-<tspan style="stroke-width:0.06px">....................................</tspan></text>
<text transform="translate(700.50 690.60) scale(1 1.05) skewX(0.5)" font-size="8.5" style="stroke-width:0.3px" letter-spacing="0.013">11-<tspan style="stroke-width:0.06px">....................................</tspan></text>
<text transform="translate(878.50 690.60) scale(1 1.05) skewX(0.5)" font-size="8.5" style="stroke-width:0.3px" letter-spacing="0.017">12-<tspan style="stroke-width:0.06px">....................................</tspan></text>
<text transform="translate(924.50 710.00) skewX(0.5)" font-size="9.0" letter-spacing="0.200">Page 2 sur</text>
<text transform="translate(961.00 710.00) skewX(0.5)" font-size="9.0">3</text>
</svg>
</body>
</html>
